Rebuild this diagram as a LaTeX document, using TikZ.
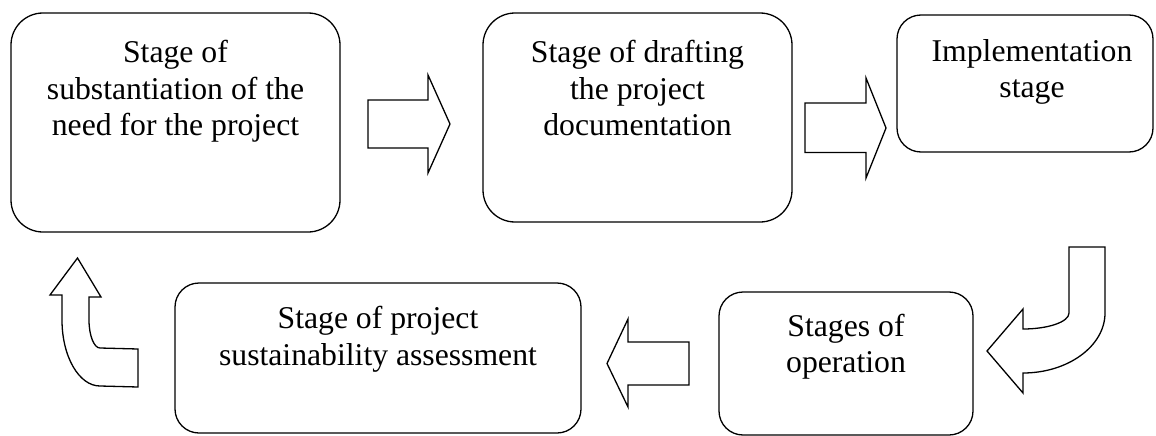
\documentclass[tikz,border=0pt]{standalone}
\usepackage{fontspec}
\setmainfont{Liberation Serif}
\usetikzlibrary{positioning}
\begin{document}
\begin{tikzpicture}[x=1pt,y=-1pt]

    \tikzstyle{stage} = [draw, line width=1.3, rounded corners=24, inner sep=0]
    \tikzstyle{bigstage} = [stage, rounded corners=32]
    \tikzstyle{stagetext} = [align=center, inner sep=0, font=\fontsize{31.7}{36.7}\selectfont]
    \tikzstyle{blockarrow} = [draw, line width=1.3, line join=miter]

    \useasboundingbox (0,0) rectangle (1156,436);

    \node[bigstage, minimum width=329, minimum height=219] (need) at (175.5,122.5) {};
    \node[bigstage, minimum width=309, minimum height=209] (draft) at (637.5,117.5) {};
    \node[stage, minimum width=256, minimum height=137] (impl) at (1025,83.5) {};
    \node[stage, minimum width=254, minimum height=143] (oper) at (846,363.5) {};
    \node[stage, minimum width=406, minimum height=150] (assess) at (378,358) {};

    \node[stagetext, below=24.3pt of need.north] (needtext) {\strut Stage of\\ substantiation of the\\ need for the project};
    \node[stagetext, below=24.3pt of draft.north] (drafttext) {\strut Stage of drafting\\ the project\\ documentation};
    \node[stagetext, below=21pt of impl.north, xshift=7pt] (impltext) {\strut Implementation\\ stage};
    \node[stagetext, below=19pt of oper.north] (opertext) {\strut Stages of\\ operation};
    \node[stagetext, below=20.6pt of assess.north] (assesstext) {\strut Stage of project\\ sustainability assessment};

    \draw[blockarrow] (368,100) -- (428,100) -- (428,75) -- (450,124) -- (428,173) -- (428,148) -- (368,148) -- cycle;
    \draw[blockarrow] (805,103) -- (866,103) -- (866,78) -- (886,128) -- (866,178) -- (866,152.5) -- (805,152.5) -- cycle;
    \draw[blockarrow] (689,342) -- (628,342) -- (628,319) -- (607,363.5) -- (628,407) -- (628,385) -- (689,385) -- cycle;

    \draw[blockarrow] (1069,247) -- (1105,247) -- (1105,313) .. controls (1105,346) and (1068,373) .. (1023,373)
        -- (1023,393) -- (987,351) -- (1023,309) -- (1023,329) .. controls (1048,329) and (1069,322) .. (1069,313) -- cycle;
    \draw[blockarrow] (62,295) -- (50,295) -- (77.5,258) -- (101,297) -- (89,297) -- (89,320)
        .. controls (89,335.5) and (94,348) .. (100,348) -- (138,349) -- (138,387) -- (100,386)
        .. controls (79,386) and (62,356.5) .. (62,320) -- cycle;
\end{tikzpicture}
\end{document}
